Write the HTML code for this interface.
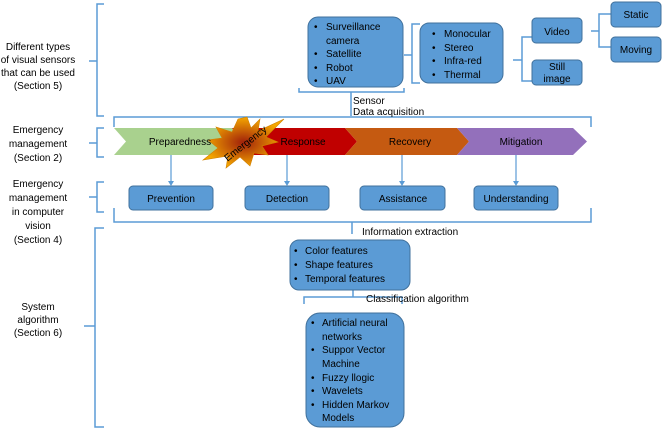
<!DOCTYPE html>
<html><head><style>body{margin:0;background:#fff}svg{display:block}text{font-family:"Liberation Sans",sans-serif;font-size:10px;fill:#000}</style></head><body>
<svg width="664" height="431" viewBox="0 0 664 431" xmlns="http://www.w3.org/2000/svg">
<g fill="none" stroke="#5b9bd5" stroke-width="1.5">
<path d="M104,4 H97 V61 H89 M97,61 V116 H104"/>
<path d="M104,128 H97 V143 H89 M97,143 V157 H104"/>
<path d="M104,182 H97 V197 H89 M97,197 V212 H104"/>
<path d="M104,228 H95 V326 H84 M95,326 V427 H104"/>
<path d="M299,88 V92 H404 V88 M351,92 V116"/>
<path d="M114,127 V117 H591 V127"/>
<path d="M114,208 V222 H591 V208 M352,222 V234"/>
<path d="M304,304 V297 H402 V304 M353,297 V289"/>
<path d="M404,55 H412 V24 H420 M412,55 V83 H420"/>
<path d="M513,60 H522 V37 H532 M522,60 V81 H532"/>
<path d="M591,31 H599 V14 H611 M599,31 V47 H611"/>
</g>
<g text-anchor="middle">
<text x="38" y="50">Different types</text><text x="38" y="63">of visual sensors</text><text x="38" y="76">that can be used</text><text x="38" y="89">(Section 5)</text>
<text x="38" y="133">Emergency</text><text x="38" y="147">management</text><text x="38" y="161">(Section 2)</text>
<text x="38" y="187">Emergency</text><text x="38" y="201">management</text><text x="38" y="215">in computer</text><text x="38" y="229">vision</text><text x="38" y="243">(Section 4)</text>
<text x="38" y="310">System</text><text x="38" y="323">algorithm</text><text x="38" y="336">(Section 6)</text>
</g>
<text x="353" y="104">Sensor</text><text x="353" y="115">Data acquisition</text>
<text x="362" y="235">Information extraction</text>
<text x="366" y="302">Classification algorithm</text>
<g fill="#5b9bd5" stroke="#41719c" stroke-width="1">
<rect x="308" y="17" width="95" height="70" rx="10"/>
<rect x="420" y="23" width="83" height="60" rx="9"/>
<rect x="532" y="18" width="50" height="25" rx="4"/>
<rect x="532" y="60" width="50" height="25" rx="4"/>
<rect x="611" y="2" width="50" height="25" rx="4"/>
<rect x="611" y="37" width="50" height="25" rx="4"/>
<rect x="129" y="186" width="84" height="24" rx="4"/>
<rect x="245" y="186" width="84" height="24" rx="4"/>
<rect x="360" y="186" width="85" height="24" rx="4"/>
<rect x="474" y="186" width="84" height="24" rx="4"/>
<rect x="290" y="240" width="120" height="50" rx="9"/>
<rect x="306" y="313" width="98" height="114" rx="14"/>
</g>
<polygon points="114,128 232,128 244,141.5 232,155 114,155 126,141.5" fill="#a9d18e"/>
<polygon points="232,128 345,128 357,141.5 345,155 232,155 244,141.5" fill="#c00000"/>
<polygon points="345,128 457,128 469,141.5 457,155 345,155 357,141.5" fill="#c55a11"/>
<polygon points="457,128 573,128 587,141.5 573,155 457,155 469,141.5" fill="#9370bb"/>
<g stroke="#5b9bd5" stroke-width="1.2" fill="#5b9bd5">
<line x1="171" y1="155" x2="171" y2="183"/><polygon points="168,181 174,181 171,186" stroke="none"/>
<line x1="287" y1="155" x2="287" y2="183"/><polygon points="284,181 290,181 287,186" stroke="none"/>
<line x1="402" y1="155" x2="402" y2="183"/><polygon points="399,181 405,181 402,186" stroke="none"/>
<line x1="516" y1="155" x2="516" y2="183"/><polygon points="513,181 519,181 516,186" stroke="none"/>
</g>
<defs><radialGradient id="g"><stop offset="0" stop-color="#a0200a"/><stop offset="1" stop-color="#f5a800"/></radialGradient></defs>
<polygon points="247,117 251,128 260,119 258,131 284,119 266,137 278,142 262,146 268,155 254,153 250,166 240,157 226,168 228,156 203,160 218,148 208,140 222,138 216,127 232,132 238,119" fill="url(#g)" stroke="#d08000" stroke-width="0.6"/>
<text x="245" y="147" transform="rotate(-38 245 143)" text-anchor="middle">Emergency</text>
<g text-anchor="middle">
<text x="180" y="145">Preparedness</text>
<text x="303" y="145">Response</text>
<text x="410" y="145">Recovery</text>
<text x="521" y="145">Mitigation</text>
<text x="171" y="202">Prevention</text>
<text x="287" y="202">Detection</text>
<text x="403" y="202">Assistance</text>
<text x="516" y="202">Understanding</text>
<text x="557" y="35">Video</text>
<text x="557" y="70">Still</text><text x="557" y="82">image</text>
<text x="636" y="18">Static</text>
<text x="636" y="53">Moving</text>
</g>
<g>
<text x="314" y="30">•</text><text x="326" y="30">Surveillance</text><text x="326" y="44">camera</text>
<text x="314" y="57">•</text><text x="326" y="57">Satellite</text>
<text x="314" y="71">•</text><text x="326" y="71">Robot</text>
<text x="314" y="84">•</text><text x="326" y="84">UAV</text>
<text x="432" y="37">•</text><text x="444" y="37">Monocular</text>
<text x="432" y="51">•</text><text x="444" y="51">Stereo</text>
<text x="432" y="64">•</text><text x="444" y="64">Infra-red</text>
<text x="432" y="78">•</text><text x="444" y="78">Thermal</text>
<text x="294" y="254">•</text><text x="305" y="254">Color features</text>
<text x="294" y="268">•</text><text x="305" y="268">Shape features</text>
<text x="294" y="282">•</text><text x="305" y="282">Temporal features</text>
<text x="311" y="326">•</text><text x="322" y="326">Artificial neural</text><text x="322" y="340">networks</text>
<text x="311" y="353">•</text><text x="322" y="353">Suppor Vector</text><text x="322" y="367">Machine</text>
<text x="311" y="381">•</text><text x="322" y="381">Fuzzy llogic</text>
<text x="311" y="394">•</text><text x="322" y="394">Wavelets</text>
<text x="311" y="408">•</text><text x="322" y="408">Hidden Markov</text><text x="322" y="421">Models</text>
</g>
</svg>
</body></html>
